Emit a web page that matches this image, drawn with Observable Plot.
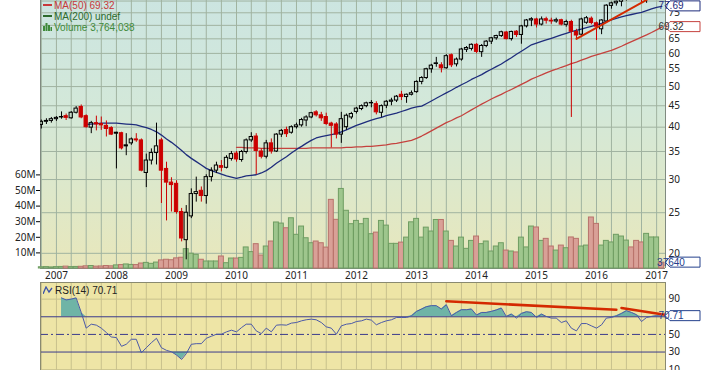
<!DOCTYPE html>
<html><head><meta charset="utf-8">
<script src="https://cdn.jsdelivr.net/npm/d3@7"></script>
<script src="https://cdn.jsdelivr.net/npm/@observablehq/plot@0.6"></script>
<style>
body{margin:0;background:#fff;}
#chart{position:relative;width:704px;height:370px;overflow:hidden;background:#fff;font-family:"Liberation Sans",Arial,sans-serif;}
#bg{position:absolute;left:40px;top:0;width:625px;height:268px;background:linear-gradient(to bottom,#cce5e1 0%,#d3e8d9 40%,#dfe8c8 75%,#e8e7bb 100%);}
.leg{position:absolute;font-size:10px;line-height:11px;white-space:nowrap;}
.ic{display:inline-block;width:9px;height:2px;vertical-align:middle;margin-right:2px;position:relative;top:-1px;}
</style>
</head><body>
<div id="chart"><div id="bg"></div></div>
<script>
// ---- data (monthly, Oct 2006 .. Feb 2017) ----
const firstMonth = "2006-10-01";
const lastMonth = "2017-02-01";
const open = [
40.5,41.2,41.4,
41.8,42.3,42.5,42.0,43.3,44.7,42.5,39.9,40.9,40.7,40.3,39.8,
38.8,38.7,36.2,36.6,37.4,37.2,31.1,33.3,34.7,37.2,31.8,29.5,
29.3,25.1,21.5,24.5,27.7,28.2,27.4,30.4,31.5,32.3,32.0,33.6,
34.6,33.4,34.9,37.2,38.0,35.0,34.0,36.6,35.0,38.4,39.4,38.8,
40.0,40.4,41.5,42.2,43.4,42.7,42.3,40.8,40.6,38.4,40.0,42.2,
43.5,44.2,44.9,45.6,45.4,43.3,45.0,46.0,46.3,47.8,47.2,47.8,
48.5,51.3,52.4,55.0,56.8,56.2,55.3,59.4,56.5,58.0,61.2,61.5,
62.9,60.4,62.5,64.0,65.2,66.0,67.3,64.9,67.6,66.4,69.6,71.9,
72.3,70.3,72.4,71.8,71.5,72.0,70.2,71.3,67.5,66.5,71.0,72.6,
70.8,68.5,71.5,77.9,79.0,79.7,80.5,83.6,83.0,82.3,80.5,84.5,
86.0,87.5];
const high = [
41.6,41.9,42.2,
42.4,43.5,43.0,43.6,44.8,45.2,42.8,41.3,42.5,42.3,41.4,40.1,
38.9,38.9,38.6,37.7,38.6,37.5,34.5,35.5,40.9,37.6,33.0,30.3,
29.8,25.6,26.0,28.5,30.4,28.8,30.8,32.0,33.0,33.3,34.2,35.0,
35.0,35.2,37.5,38.8,38.6,35.5,37.2,37.5,38.6,39.5,40.0,40.3,
40.9,42.0,42.6,43.4,43.8,43.4,43.2,41.1,41.0,43.4,43.0,43.4,
44.6,45.2,45.9,46.3,46.0,45.2,46.3,46.9,47.6,48.7,48.0,48.8,
51.6,52.8,55.3,56.5,58.7,57.0,59.6,59.8,58.5,61.7,62.3,63.2,
63.3,63.0,64.4,65.5,66.3,67.8,67.7,67.8,68.0,70.0,72.3,73.0,
72.8,73.3,73.2,72.8,72.8,72.4,72.0,72.0,68.5,72.8,73.5,73.3,
71.3,72.2,78.4,79.5,80.0,81.0,84.0,84.5,84.0,83.0,85.0,87.0,
88.0,88.5];
const low = [
39.6,40.6,40.9,
41.3,41.8,41.5,41.8,43.0,41.9,39.8,38.6,39.2,39.3,37.9,38.2,
31.8,35.3,34.2,36.2,36.8,31.3,28.7,32.5,32.5,26.3,23.9,25.1,
24.8,21.3,19.3,24.2,26.5,26.5,26.2,29.6,31.0,31.3,31.8,33.2,
33.0,33.0,34.5,36.8,30.8,33.6,33.6,34.5,34.8,37.8,37.8,38.5,
39.6,40.0,40.1,41.9,42.3,41.3,40.4,35.7,37.5,36.6,39.3,41.7,
43.0,43.8,44.5,44.5,42.8,42.2,44.3,45.0,45.8,46.3,45.6,47.5,
48.2,50.5,52.0,53.8,55.6,53.9,55.0,55.5,55.7,57.5,60.3,60.8,
59.9,58.7,61.9,63.0,64.5,65.5,64.6,64.2,65.5,63.1,69.0,69.5,
69.0,69.8,70.5,70.4,70.8,69.8,69.3,42.2,64.9,66.0,70.4,70.2,
64.4,66.5,71.0,76.5,77.8,77.5,80.0,82.5,80.5,79.3,79.0,84.0,
85.0,86.0];
const close = [
41.2,41.4,41.8,
42.1,42.2,42.1,43.3,44.3,42.2,40.0,40.9,40.6,40.4,39.6,38.4,
38.6,35.6,36.0,37.4,37.2,31.5,33.3,34.7,36.0,31.5,29.5,29.1,
25.1,21.7,25.0,27.7,28.0,27.4,30.4,31.5,32.4,32.0,33.8,34.5,
33.5,34.9,37.2,37.9,35.1,34.0,36.6,35.0,38.4,39.2,38.5,40.0,
40.4,41.6,42.2,43.2,42.7,42.0,40.7,40.3,38.4,41.8,42.6,43.0,
44.3,44.9,45.6,45.7,43.4,44.9,46.0,46.3,47.3,47.2,47.8,48.2,
51.3,52.4,55.0,56.1,56.6,55.3,59.1,56.2,58.0,61.3,61.8,62.9,
60.5,62.5,64.0,65.2,66.0,67.4,64.9,67.5,66.4,69.6,71.9,72.4,
70.3,72.3,71.8,71.5,72.0,70.3,71.3,67.6,66.2,72.3,72.8,70.9,
69.5,71.9,78.0,79.0,79.7,80.5,83.5,83.0,82.3,80.5,84.5,86.0,
87.5,87.2];
const volumeM = [
0.8,0.9,0.7,
0.9,1.0,1.2,0.9,1.0,1.1,1.4,1.6,1.2,1.3,1.6,1.4,
2.0,2.2,2.6,2.3,2.2,3.2,3.6,3.0,3.8,5.2,5.6,5.3,
6.5,6.9,12.4,9.5,8.8,5.6,4.5,4.5,4.5,7.7,3.4,6.4,
6.4,6.8,13.5,10.5,15.6,8.3,14.1,17.3,29.5,28.8,25.8,32.2,
21.6,26.9,19.4,16.2,17.3,16.2,13.4,44.0,31.2,51.0,37.0,28.4,
30.5,28.4,31.8,22.0,23.0,30.5,27.5,15.8,15.8,16.6,19.8,29.6,
31.8,19.8,26.2,23.7,31.1,31.1,23.7,17.7,14.1,19.8,12.6,17.7,
20.5,15.6,17.3,10.9,14.1,16.2,11.5,10.9,10.3,19.8,13.5,26.9,
26.3,17.7,19.0,14.1,11.5,14.7,13.0,19.9,19.0,14.1,14.7,32.7,
28.6,14.7,17.7,16.7,21.6,20.5,17.9,13.5,17.7,16.7,22.2,19.9,
19.9,3.764038];
const ma20 = [
null,null,null,
null,null,null,null,null,null,40.6,40.7,40.8,40.9,40.9,40.9,
40.9,40.8,40.7,40.6,40.5,40.2,39.9,39.5,39.0,38.3,37.5,36.8,
36.0,35.2,34.4,33.7,33.1,32.5,31.9,31.5,31.2,30.9,30.6,30.4,
30.2,30.4,30.6,30.7,30.8,31.1,31.5,32.1,32.8,33.4,34.0,34.7,
35.4,36.0,36.6,37.2,37.7,38.0,38.2,38.4,38.6,39.0,39.4,39.9,
40.4,40.8,41.2,41.6,41.9,42.2,42.6,42.9,43.2,43.6,44.0,44.4,
44.7,44.9,45.5,46.2,46.9,47.6,48.3,49.0,49.8,50.5,51.2,52.0,
52.7,53.4,54.2,55.0,55.8,56.6,57.6,58.6,59.7,60.7,61.8,62.9,
63.5,64.1,64.6,65.2,65.8,66.4,67.0,67.6,68.1,68.6,69.1,69.6,
70.2,70.8,71.5,72.1,72.7,73.3,73.8,74.3,74.8,75.2,75.9,76.6,
77.3,77.69];
const ma50 = [
null,null,null,
null,null,null,null,null,null,null,null,null,null,null,null,
null,null,null,null,null,null,null,null,null,null,null,null,
null,null,null,null,null,null,null,null,null,null,null,null,
35.8,35.8,35.7,35.7,35.7,35.6,35.6,35.6,35.6,35.6,35.6,35.6,
35.6,35.6,35.6,35.7,35.7,35.7,35.7,35.7,35.7,35.7,35.8,35.8,
35.9,35.9,36.0,36.0,36.1,36.2,36.3,36.5,36.6,36.8,37.0,37.2,
37.6,38.1,38.6,39.2,39.8,40.4,41.0,41.5,42.1,42.6,43.3,44.0,
44.7,45.4,46.0,46.7,47.3,47.9,48.6,49.2,49.9,50.6,51.3,52.1,
52.7,53.3,53.9,54.5,55.0,55.6,56.1,56.7,57.2,57.8,58.4,59.0,
59.5,60.0,60.5,61.0,61.7,62.4,63.2,64.0,64.8,65.6,66.4,67.3,
68.3,69.32];
const rsi14 = [
null,null,null,
null,91.4,89.1,90.0,91.4,74.9,57.1,61.6,60.5,57.1,52.1,47.1,
46.4,36.5,38.8,44.5,44.5,29.2,34.9,40.6,45.6,34.9,31.9,30.3,
26.6,21.6,28.1,38.8,39.5,39.5,45.6,47.9,50.2,50.2,52.9,54.8,
52.9,57.8,61.6,61.6,54.0,50.9,57.1,52.9,60.5,60.9,60.5,62.8,
63.5,65.4,66.6,67.3,66.6,63.5,58.6,57.1,50.2,59.7,61.6,62.3,
64.6,65.4,67.3,66.2,60.9,63.5,65.4,66.6,69.2,69.2,69.2,71.1,
76.1,78.8,81.4,82.6,82.6,78.8,83.7,71.1,74.9,78.0,78.0,78.8,
71.9,74.9,74.9,76.1,77.7,79.9,70.4,73.0,68.5,73.8,75.7,74.9,
69.2,73.0,70.4,68.5,68.5,63.5,65.4,57.1,54.0,62.3,62.3,59.7,
57.1,60.9,68.5,69.2,71.1,73.8,76.9,74.9,72.3,64.6,69.2,70.4,
71.2,70.71];
const priceTrendDates = ["2015-09-01","2016-11-01"];
const priceTrendValues = [65.0,80.5];
const rsiTrend1Dates = ["2013-07-01","2016-05-01"];
const rsiTrend1Values = [87.5,78.0];
const rsiTrend2Dates = ["2016-06-01","2017-02-20"];
const rsiTrend2Values = [80.0,72.3];
const priceGrid = [20,25,30,35,40,45,50,55,60,65,70,75,80];
const priceLabels = [20,25,30,35,40,45,50,55,60,65,75];   // 70 and 80 sit under the value tags
const volumeTicks = [10,20,30,40,50,60];
const rsiGrid = [10,90];
const rsiLabels = [10,30,50,90];                          // 70 sits under the RSI value tag
const lastLabels = {ma20:"77.69", ma50:"69.32", volume:"37640", rsi:"70.71"};

// ---- build tables ----
const months = d3.utcMonth.range(new Date(firstMonth), d3.utcDay.offset(new Date(lastMonth),1));
const rows = months.map((date,i)=>{
  const prev = i ? close[i-1] : open[i];
  const down = close[i] < prev;
  return {date, open:open[i], high:high[i], low:low[i], close:close[i], vol:volumeM[i],
    top:Math.max(open[i],close[i]), bot:Math.min(open[i],close[i]),
    col: down ? "#cc0000" : "#000000", filled: close[i] < open[i], down};
});
const series = arr => months.map((date,i)=>({date, v:arr[i]})).filter(d=>d.v!=null);
const trend = (ds,vs) => ds.map((d,i)=>({date:new Date(d), v:vs[i]}));
const day = (d,n) => d3.utcDay.offset(d,n);
const quarterTicks = d3.utcMonth.every(3).range(new Date("2006-10-01"), new Date("2017-01-02"));
const yearTicks = d3.utcYear.range(new Date("2007-01-01"), new Date("2017-01-02"));
const xDomain = [new Date("2006-09-26"), new Date("2017-02-24")];
const layer = top => ({position:"absolute", left:"0px", top:top+"px", background:"transparent"});
const common = {width:704, height:282, marginLeft:40, marginRight:39, marginTop:0, marginBottom:14};
const chart = document.getElementById("chart");
const GRID = "#a0b3a0";

// layer 1: grid + axes
const gridPlot = Plot.plot({...common, style:layer(0),
  x:{type:"utc", domain:xDomain}, y:{type:"log", domain:[18.4,80.24]},
  marks:[
    Plot.gridX(quarterTicks,{stroke:GRID, strokeOpacity:1}),
    Plot.gridY(priceGrid,{stroke:GRID, strokeOpacity:1}),
    Plot.ruleY([18.4],{stroke:"#808a80"}),
    Plot.ruleX(xDomain,{stroke:"#808a80"}),
    Plot.axisX(yearTicks,{tickSize:0, tickPadding:3, tickFormat:"%Y", fontSize:10, fill:"#222", label:null}),
    Plot.axisY(priceLabels,{anchor:"right", tickSize:0, tickPadding:3, fontSize:10, fill:"#222", label:null})
  ]});
chart.appendChild(gridPlot);

// layer 2: volume
const volPlot = Plot.plot({...common, style:layer(0),
  x:{type:"utc", domain:xDomain, axis:null}, y:{domain:[0,171.8]}, color:{type:"identity"},
  marks:[
    Plot.rectY(rows,{x1:d=>day(d.date,-15), x2:d=>day(d.date,15), y1:0, y2:"vol",
      fill:d=>d.down?"#d9a097":"#9ec68d", stroke:d=>d.down?"#b8736b":"#6f9d62", strokeWidth:1}),
    Plot.axisY(volumeTicks,{anchor:"left", tickSize:4, tickPadding:1, tickFormat:d=>d+"M", fontSize:10, fill:"#222", label:null})
  ]});
chart.appendChild(volPlot);

// layer 3: candles + moving averages
const pricePlot = Plot.plot({...common, style:layer(0),
  x:{type:"utc", domain:xDomain, axis:null}, y:{type:"log", domain:[18.4,80.24], axis:null}, color:{type:"identity"},
  marks:[
    Plot.line(series(ma50),{x:"date", y:"v", stroke:"#c5423e", strokeWidth:1.3, clip:true}),
    Plot.line(series(ma20),{x:"date", y:"v", stroke:"#1e2c7c", strokeWidth:1.3, clip:true}),
    Plot.ruleX(rows,{x:"date", y1:"high", y2:"top", stroke:"col", clip:true}),
    Plot.ruleX(rows,{x:"date", y1:"bot", y2:"low", stroke:"col", clip:true}),
    Plot.rect(rows,{x1:d=>day(d.date,-10), x2:d=>day(d.date,10), y1:"open", y2:"close",
      fill:d=>d.filled?d.col:"none", stroke:"col", strokeWidth:1, clip:true}),
    Plot.line(trend(priceTrendDates,priceTrendValues),{x:"date", y:"v", stroke:"#d42a00", strokeWidth:2, clip:true})
  ]});
chart.appendChild(pricePlot);

// layer 4: RSI panel
const rsiRows = series(rsi14);
const rsiPlot = Plot.plot({width:704, height:96, marginLeft:40, marginRight:39, marginTop:0, marginBottom:0,
  style:layer(282), x:{type:"utc", domain:xDomain, axis:null}, y:{domain:[0,108.86]},
  marks:[
    Plot.frame({fill:"#eee5a6", stroke:null}),
    Plot.gridX(quarterTicks,{stroke:"#c8c18d", strokeOpacity:1}),
    Plot.gridY(rsiGrid,{stroke:"#c8c18d", strokeOpacity:1}),
    Plot.areaY(rsiRows,{x:"date", y1:70, y2:d=>Math.max(d.v,70), fill:"#6fb4a6"}),
    Plot.areaY(rsiRows,{x:"date", y1:30, y2:d=>Math.min(d.v,30), fill:"#6fb4a6"}),
    Plot.ruleY([70,30],{stroke:"#3a3a8c"}),
    Plot.ruleY([50],{stroke:"#3a3a8c", strokeDasharray:"8,3,2,3"}),
    Plot.line(rsiRows,{x:"date", y:"v", stroke:"#4b59a8", strokeWidth:1}),
    Plot.line(trend(rsiTrend1Dates,rsiTrend1Values),{x:"date", y:"v", stroke:"#d42a00", strokeWidth:2.5}),
    Plot.line(trend(rsiTrend2Dates,rsiTrend2Values),{x:"date", y:"v", stroke:"#d42a00", strokeWidth:2.5}),
    Plot.ruleX(xDomain,{stroke:"#8a8a70"}),
    Plot.ruleY([108.86],{stroke:"#8a8a70"}),
    Plot.axisY(rsiLabels,{anchor:"right", tickSize:0, tickPadding:3, fontSize:10, fill:"#222", label:null})
  ]});
chart.appendChild(rsiPlot);

// value tags on the right axis
function tag(svg, y, text, stroke, color){
  const x0 = 665, h = 5, w = 35;
  const g = d3.select(svg).append("g");
  g.append("path").attr("d",`M${x0},${y}L${x0+5},${y-h}L${x0+w},${y-h}L${x0+w},${y+h}L${x0+5},${y+h}Z`)
    .attr("fill","#fff").attr("stroke",stroke);
  g.append("text").attr("x",x0+6).attr("y",y).attr("dy","0.36em").attr("font-size",10)
    .attr("font-family","Liberation Sans, Arial, sans-serif").attr("fill",color).text(text);
}
const py = pricePlot.scale("y"), vy = volPlot.scale("y"), ry = rsiPlot.scale("y");
tag(volPlot, vy.apply(volumeM[volumeM.length-1]), lastLabels.volume, "#24408c", "#24408c");
tag(pricePlot, py.apply(ma20[ma20.length-1]), lastLabels.ma20, "#1e2c7c", "#1e2c7c");
tag(pricePlot, py.apply(ma50[ma50.length-1]), lastLabels.ma50, "#c5423e", "#333");
tag(rsiPlot, ry.apply(rsi14[rsi14.length-1]), lastLabels.rsi, "#24408c", "#24408c");

// legends
function leg(left, top, color, icon, text){
  const d = document.createElement("div");
  d.className = "leg"; d.style.left = left+"px"; d.style.top = top+"px"; d.style.color = color;
  d.innerHTML = icon; d.appendChild(document.createTextNode(text));
  chart.appendChild(d);
}
leg(43, 0, "#c8393a", '<span class="ic" style="background:#c8393a"></span>', "MA(50) 69.32");
leg(43, 11, "#2c6a2c", '<span class="ic" style="background:#2c6a2c"></span>', "MA(200) undef");
leg(43, 22, "#3f8a3a", '<svg width="9" height="8" style="margin-right:2px;vertical-align:middle;position:relative;top:-1px"><rect x="0" y="3" width="2" height="5" fill="#3f8a3a"/><rect x="2.5" y="0" width="2" height="8" fill="#3f8a3a"/><rect x="5" y="2" width="2" height="6" fill="#3f8a3a"/><rect x="7.5" y="4" width="1.5" height="4" fill="#3f8a3a"/></svg>', "Volume 3,764,038");
leg(43, 285, "#222", '<svg width="10" height="8" style="margin-right:2px;vertical-align:middle;position:relative;top:-1px"><path d="M0,8L3,1L6,6L9,2" fill="none" stroke="#3b52a8" stroke-width="1.3"/></svg>', "RSI(14) 70.71");
</script>
</body></html>
